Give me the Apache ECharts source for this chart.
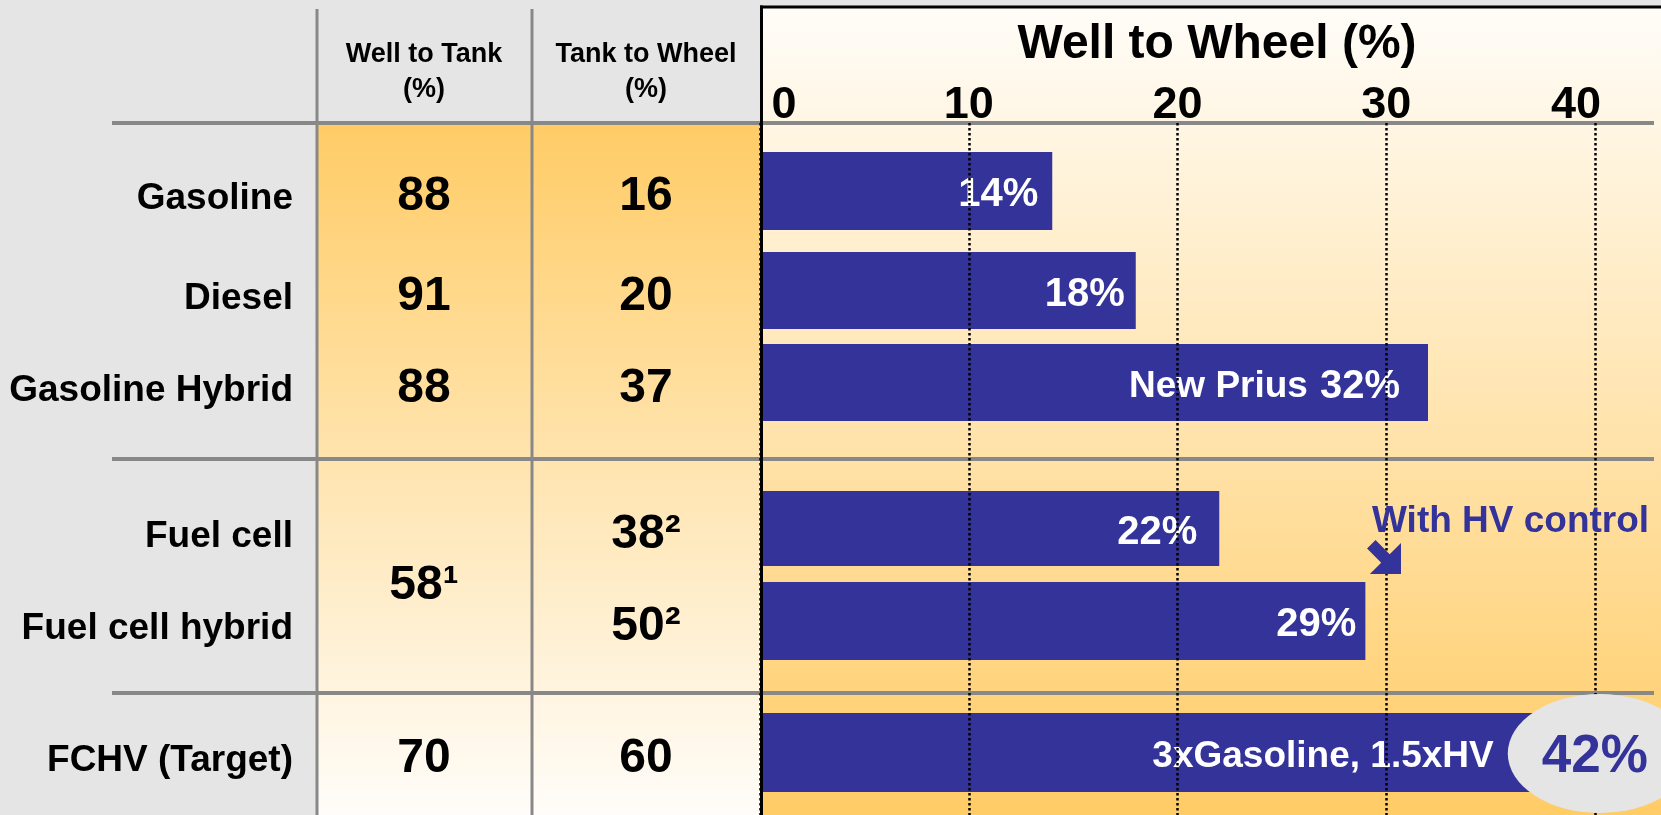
<!DOCTYPE html>
<html>
<head>
<meta charset="utf-8">
<title>Well to Wheel efficiency</title>
<script src="https://cdn.jsdelivr.net/npm/echarts@6.0.0/dist/echarts.min.js"></script>
<style>
  html, body { margin: 0; padding: 0; background: #fff; }
  #main { width: 1661px; height: 815px; }
</style>
</head>
<body>
<div id="main"></div>
<script>
// values
var fuels = ['Gasoline', 'Diesel', 'Gasoline Hybrid', 'Fuel cell', 'Fuel cell hybrid', 'FCHV (Target)'];
var wellToTank = [88, 91, 88, 58, 58, 70];
var tankToWheel = [16, 20, 37, 38, 50, 60];
var wellToWheel = [14, 18, 32, 22, 29, 42];
var wttNote = ['', '', '', '\u00b9', '\u00b9', ''];
var ttwNote = ['', '', '', '\u00b2', '\u00b2', ''];
var barCaptions = ['', '', 'New Prius', '', '', '3xGasoline, 1.5xHV'];
var calloutRow = 5;   // FCHV: value shown in the grey bubble
var wttMerged = [[0], [1], [2], [3, 4], [5]];  // 58 spans the two fuel cell rows

// layout (pixels)
var FONT = '"Liberation Sans", Arial, Helvetica, sans-serif';
var BLUE = '#333399';
var rowTop = [152, 252, 344, 491, 582, 713];
var rowH = [78, 77, 77, 75, 78, 79];
var x0 = 760, unit = 20.875, xMax = 50;
var gridRight = 1661 - (x0 + xMax * unit); // runs past the right edge on purpose
var labelInset = [14, 11, 28, 22, 9, 143];
var col1 = 424, col2 = 646;

function rowMid(i) { return rowTop[i] + rowH[i] / 2; }

var myChart = echarts.init(document.getElementById('main'));

// overlay grid: top axis labels + dotted lines drawn over the bars
var grids = [{ left: x0, right: gridRight, top: 123, bottom: 0, containLabel: false, outerBoundsMode: 'none' }];
var xAxes = [{
  gridIndex: 0,
  type: 'value',
  position: 'top',
  min: 0,
  max: xMax,
  interval: 10,
  z: 3,
  axisLine: { show: false },
  axisTick: { show: false },
  axisLabel: {
    margin: -5,
    color: '#000',
    fontSize: 45,
    fontWeight: 'bold',
    fontFamily: FONT,
    lineHeight: 45,
    formatter: function (v) {
      if (v === 0) return '{first|0}';
      if (v === 40) return '{last|40}';
      return v;
    },
    rich: {
      first: { padding: [0, 0, 0, 48], fontSize: 45, fontWeight: 'bold', fontFamily: FONT, color: '#000', lineHeight: 45 },
      last: { padding: [0, 38, 0, 0], fontSize: 45, fontWeight: 'bold', fontFamily: FONT, color: '#000', lineHeight: 45 }
    }
  },
  splitLine: { show: true, lineStyle: { color: '#000', width: 2.5, type: [2.5, 2.5] } }
}];
var yAxes = [{ gridIndex: 0, type: 'value', show: false }];
var series = [];

fuels.forEach(function (name, i) {
  grids.push({ left: x0, right: gridRight, top: rowTop[i], height: rowH[i], containLabel: false, outerBoundsMode: 'none' });
  xAxes.push({ gridIndex: i + 1, type: 'value', min: 0, max: xMax, show: false });
  yAxes.push({
    gridIndex: i + 1,
    type: 'category',
    data: [name],
    axisLine: { show: false },
    axisTick: { show: false },
    axisLabel: {
      margin: 467,
      verticalAlign: 'top',
      lineHeight: 16,
      color: '#000',
      fontSize: 37,
      fontWeight: 'bold',
      fontFamily: FONT
    }
  });
  var text;
  if (i === calloutRow) text = '{n|' + barCaptions[i] + '}';
  else if (barCaptions[i]) text = '{n|' + barCaptions[i] + '}{v|' + wellToWheel[i] + '%}';
  else text = '{v|' + wellToWheel[i] + '%}';
  series.push({
    type: 'bar',
    xAxisIndex: i + 1,
    yAxisIndex: i + 1,
    barWidth: '100%',
    itemStyle: { color: BLUE },
    silent: true,
    label: {
      show: true,
      position: 'insideRight',
      offset: [0, 4],
      formatter: text,
      rich: {
        n: { color: '#fff', fontSize: 37, fontWeight: 'bold', fontFamily: FONT },
        v: { color: '#fff', fontSize: 40, fontWeight: 'bold', fontFamily: FONT, padding: [0, 0, 0, barCaptions[i] ? 12 : 0] }
      }
    },
    data: [{ value: wellToWheel[i], label: { distance: labelInset[i] } }]
  });
});

// grey bubble with the target value
series.push({
  type: 'scatter',
  xAxisIndex: calloutRow + 1,
  yAxisIndex: calloutRow + 1,
  data: [[wellToWheel[calloutRow], 0]],
  symbol: 'circle',
  symbolSize: [184, 119],
  symbolOffset: [-37, 1],
  clip: false,
  silent: true,
  z: 5,
  itemStyle: { color: '#e5e5e5', opacity: 1 },
  label: {
    show: true,
    position: 'inside',
    offset: [-5, 4],
    formatter: function (p) { return p.value[0] + '%'; },
    color: BLUE,
    fontSize: 53,
    fontWeight: 'bold',
    fontFamily: FONT
  }
});

// table: backgrounds, rules and numbers
var graphics = [
  { type: 'rect', shape: { x: 0, y: 0, width: 1661, height: 815 }, style: { fill: '#e5e5e5' }, z: -10 },
  {
    type: 'rect', shape: { x: 317, y: 123, width: 443, height: 692 }, z: -9,
    style: { fill: new echarts.graphic.LinearGradient(0, 0, 0, 1, [{ offset: 0, color: '#ffcc66' }, { offset: 1, color: '#fffdfa' }]) }
  },
  {
    type: 'rect', shape: { x: 760, y: 7, width: 901, height: 808 }, z: -9,
    style: { fill: new echarts.graphic.LinearGradient(0, 0, 0, 1, [{ offset: 0, color: '#fffdf9' }, { offset: 1, color: '#ffcc66' }]) }
  }
];
[123, 459, 693].forEach(function (y) {
  graphics.push({ type: 'line', shape: { x1: 112, y1: y, x2: 1654, y2: y }, style: { stroke: '#888', lineWidth: 4 }, z: 1 });
});
[317, 532].forEach(function (x) {
  graphics.push({ type: 'line', shape: { x1: x, y1: 9, x2: x, y2: 815 }, style: { stroke: '#888', lineWidth: 3 }, z: 1 });
});
// black frame of the chart panel
graphics.push({ type: 'line', shape: { x1: 761.5, y1: 5.5, x2: 761.5, y2: 815 }, style: { stroke: '#000', lineWidth: 3 }, z: 4 });
graphics.push({ type: 'line', shape: { x1: 760, y1: 7, x2: 1661, y2: 7 }, style: { stroke: '#000', lineWidth: 3 }, z: 4 });

// column headers
[['Well to Tank', col1], ['Tank to Wheel', col2]].forEach(function (h) {
  graphics.push({ type: 'text', x: h[1], y: 55, z: 5, style: { text: h[0], fill: '#000', font: 'bold 27px ' + FONT, align: 'center', verticalAlign: 'middle' } });
  graphics.push({ type: 'text', x: h[1], y: 90, z: 5, style: { text: '(%)', fill: '#000', font: 'bold 27px ' + FONT, align: 'center', verticalAlign: 'middle' } });
});

wttMerged.forEach(function (rows) {
  var a = rows[0], b = rows[rows.length - 1];
  var y = rows.length > 1 ? (rowMid(a) + rowMid(b)) / 2 + 11 : rowMid(a) + 6;
  graphics.push({ type: 'text', x: col1, y: y, z: 5, style: { text: wellToTank[a] + wttNote[a], fill: '#000', font: 'bold 48px ' + FONT, align: 'center', verticalAlign: 'middle' } });
});
tankToWheel.forEach(function (v, i) {
  graphics.push({ type: 'text', x: col2, y: rowMid(i) + 6, z: 5, style: { text: v + ttwNote[i], fill: '#000', font: 'bold 48px ' + FONT, align: 'center', verticalAlign: 'middle' } });
});

// "With HV control" note and arrow
graphics.push({ type: 'text', x: 1372, y: 522, z: 5, style: { text: 'With HV control', fill: BLUE, font: 'bold 37px ' + FONT, align: 'left', verticalAlign: 'middle' } });
graphics.push({
  type: 'polygon', x: 1401, y: 574, rotation: -Math.PI / 4, z: 5,
  shape: { points: [[0, 0], [-22, -22], [-22, -6], [-42, -6], [-42, 6], [-22, 6], [-22, 22]] },
  style: { fill: BLUE }
});

myChart.setOption({
  animation: false,
  title: {
    text: 'Well to Wheel (%)',
    left: 1212,
    top: 16,
    textAlign: 'center',
    textStyle: { color: '#000', fontSize: 48, fontWeight: 'bold', fontFamily: FONT, lineHeight: 48 }
  },
  grid: grids,
  xAxis: xAxes,
  yAxis: yAxes,
  graphic: graphics,
  series: series
});
</script>
</body>
</html>
